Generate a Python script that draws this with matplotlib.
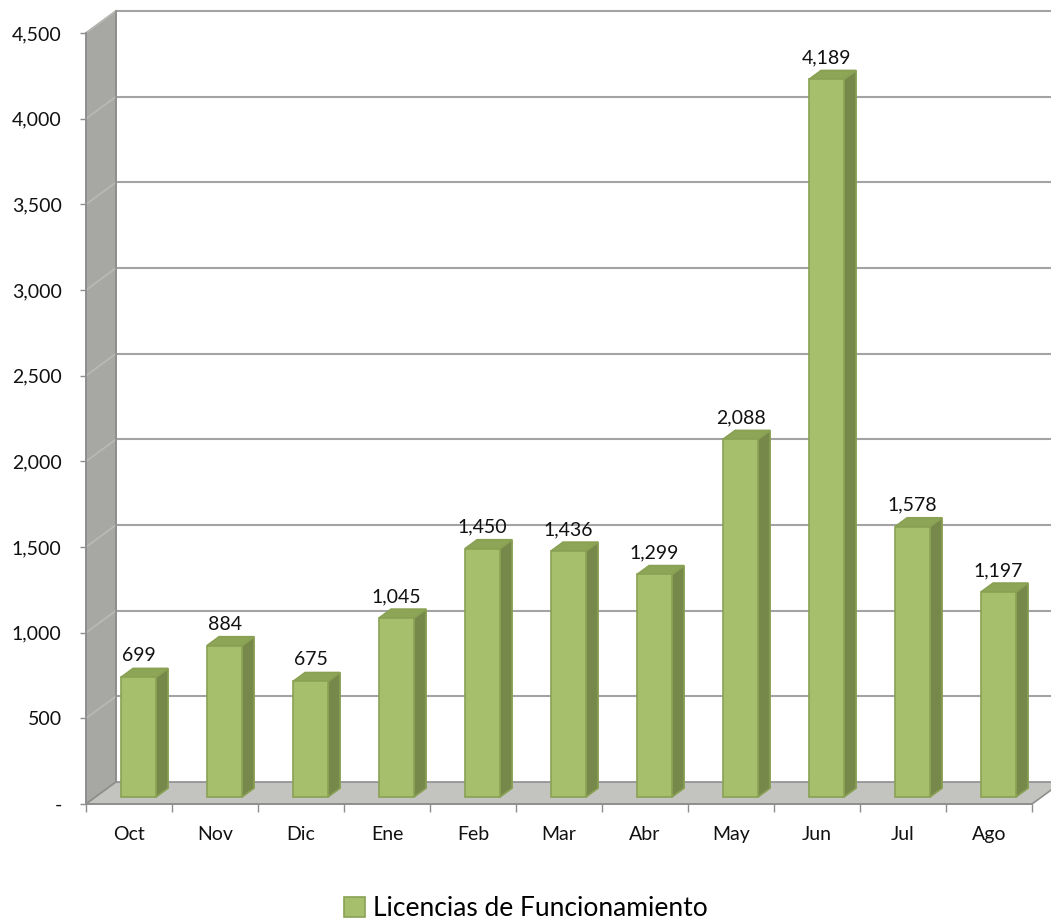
import matplotlib
matplotlib.use('Agg')
import matplotlib.pyplot as plt
from matplotlib.patches import Polygon, Patch

# data
months = ['Oct', 'Nov', 'Dic', 'Ene', 'Feb', 'Mar', 'Abr', 'May', 'Jun', 'Jul', 'Ago']
licencias = [699, 884, 675, 1045, 1450, 1436, 1299, 2088, 4189, 1578, 1197]
series_name = 'Licencias de Funcionamiento'
y_ticks = list(range(0, 4501, 500))
y_labels = ['-' if v == 0 else f'{v:,}' for v in y_ticks]

# colours
front_c = '#a6bf6c'
side_c = '#77894a'
top_c = '#8ca556'
edge_c = '#8aa153'
wall_c = '#a7a8a3'
floor_c = '#c3c4bf'
grid_c = '#a3a3a3'
axis_c = '#8e8e8e'

plt.rcParams['font.family'] = ['Lato', 'DejaVu Sans']

W, H = 1051, 924
fig = plt.figure(figsize=(W / 100, H / 100), dpi=100)
# front plane of the 3d box, in pixels
left_px, right_px, bottom_px, top_px = 86, 1032, 120, 891
ax = fig.add_axes([left_px / W, bottom_px / H, (right_px - left_px) / W, (top_px - bottom_px) / H])
n = len(months)
ymax = y_ticks[-1]
ax.set_xlim(-0.5, n - 0.5)
ax.set_ylim(0, ymax)

# depth offset (pixels -> data units)
px_x = (right_px - left_px) / n
px_y = (top_px - bottom_px) / ymax
DX = 30 / px_x
DY = 22 / px_y
x_end = (W - left_px) / px_x - 0.5 + 1

# left wall
ax.add_patch(Polygon([(-0.5, 0), (-0.5, ymax), (-0.5 + DX, ymax + DY), (-0.5 + DX, DY)],
                     closed=True, facecolor=wall_c, edgecolor=axis_c, lw=1.2, clip_on=False, zorder=1))
# floor
ax.add_patch(Polygon([(-0.5, 0), (n - 0.5, 0), (n - 0.5 + DX, DY), (-0.5 + DX, DY)],
                     closed=True, facecolor=floor_c, edgecolor=axis_c, lw=1.2, clip_on=False, zorder=1))
# gridlines on back wall and left wall
for v in y_ticks[1:]:
    ax.plot([-0.5 + DX, x_end], [v + DY, v + DY], color=grid_c, lw=1.5, clip_on=False, zorder=1.5)
    ax.plot([-0.5, -0.5 + DX], [v, v + DY], color='#b8b8b4', lw=1.3, clip_on=False, zorder=1.5)
ax.plot([-0.5 + DX, -0.5 + DX], [DY, ymax + DY], color=axis_c, lw=1.2, clip_on=False, zorder=1.5)

# bars
hw = 35 / 2 / px_x
f0, f1 = 0.32, 0.72
dd = f1 - f0
for i, v in enumerate(licencias):
    x0 = i - hw + f0 * DX
    x1 = i + hw + f0 * DX
    yb = f0 * DY
    yt = v + f0 * DY
    side = [(x1, yb), (x1 + dd * DX, yb + dd * DY), (x1 + dd * DX, yt + dd * DY), (x1, yt)]
    top = [(x0, yt), (x1, yt), (x1 + dd * DX, yt + dd * DY), (x0 + dd * DX, yt + dd * DY)]
    front = [(x0, yb), (x1, yb), (x1, yt), (x0, yt)]
    for pts, fc in ((side, side_c), (top, top_c), (front, front_c)):
        ax.add_patch(Polygon(pts, closed=True, facecolor=fc, edgecolor=edge_c, lw=1.2,
                             clip_on=False, zorder=3))
    ax.annotate(f'{v:,}', xy=((x0 + x1) / 2, v + f1 * DY), xytext=(0, 3),
                textcoords='offset points', ha='center', va='bottom', fontsize=14,
                color='#111111', annotation_clip=False, zorder=4)

# axes styling
for s in ('top', 'right'):
    ax.spines[s].set_visible(False)
for s in ('left', 'bottom'):
    ax.spines[s].set_color(axis_c)
    ax.spines[s].set_linewidth(1.2)
    ax.spines[s].set_zorder(2)
ax.set_facecolor('none')
ax.set_yticks(y_ticks)
ax.set_yticklabels(y_labels)
ax.tick_params(axis='y', direction='out', length=4.5, width=1, color=axis_c, pad=13,
               labelsize=14, labelcolor='#111111')
ax.set_xticks(range(n))
ax.set_xticklabels(months)
ax.set_xticks([i - 0.5 for i in range(n + 1)], minor=True)
ax.tick_params(axis='x', which='major', length=0, pad=16, labelsize=14, labelcolor='#111111')
ax.tick_params(axis='x', which='minor', direction='out', length=6, width=1, color=axis_c)

fig.legend(handles=[Patch(facecolor=front_c, edgecolor=edge_c, lw=1.2)], labels=[series_name],
           loc='center', bbox_to_anchor=(0.5, 15 / H), frameon=False, fontsize=19,
           handlelength=0.8, handleheight=0.8, handletextpad=0.3)

fig.savefig('out.png', dpi=100, facecolor='white')
